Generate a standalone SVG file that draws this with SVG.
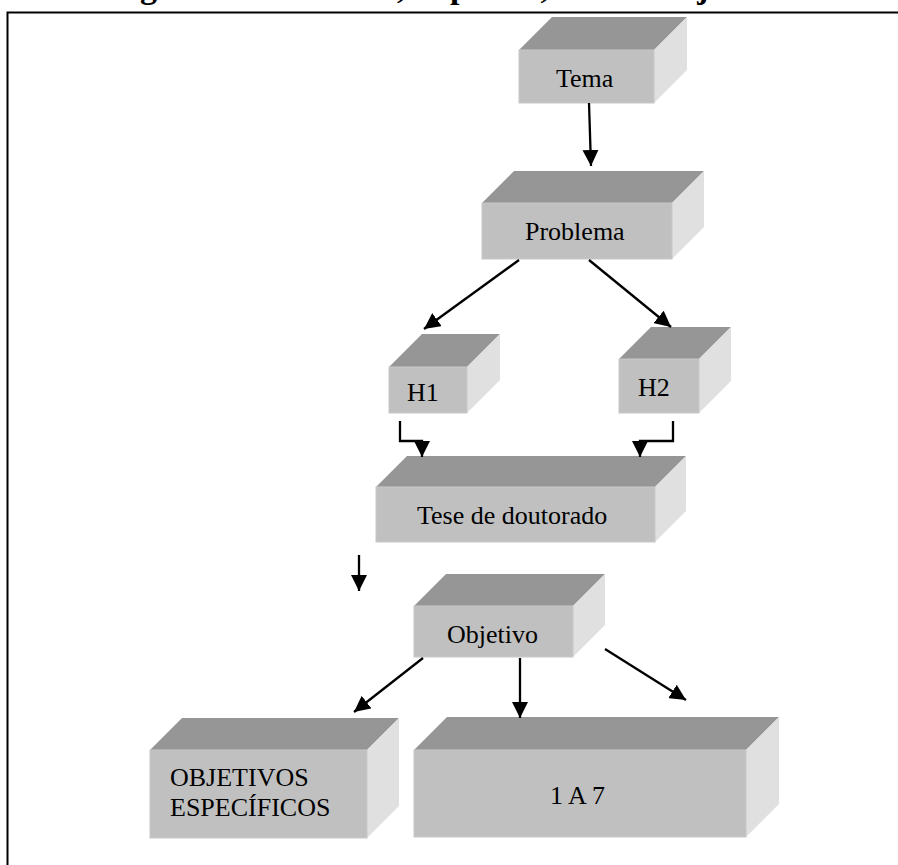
<svg xmlns="http://www.w3.org/2000/svg" width="898" height="865" viewBox="0 0 898 865">
<defs>
<marker id="ah" viewBox="0 0 16 16" refX="16" refY="8" markerWidth="16" markerHeight="16" markerUnits="userSpaceOnUse" orient="auto">
<path d="M0,0 L16,8 L0,16 z" fill="#000"/>
</marker>
<style>
.front{fill:#c0c0c0;stroke:#c8c8c8;stroke-width:1}
.top{fill:#969696}
.side{fill:#e0e0e0}
.lbl{font-family:"Liberation Serif","Times New Roman",serif;font-size:26px;fill:#000}
.ttl{font-family:"Liberation Serif","Times New Roman",serif;font-size:34px;font-weight:bold;fill:#000}
.con{stroke:#000;stroke-width:2.3;fill:none}
.arr{marker-end:url(#ah)}
</style>
</defs>
<rect width="898" height="865" fill="#fff"/>
<text class="ttl" y="-2.5"><tspan x="89">Diagrama do Tema</tspan><tspan x="397">, Hipótese, Tese e Objetivo</tspan></text>
<path d="M7.5,865 V12.5 H898" stroke="#000" stroke-width="2" fill="none"/>

<g id="tema">
<polygon class="top" points="519,50 552,17 687,17 654,50"/>
<polygon class="side" points="654,50 687,17 687,70 654,103"/>
<rect class="front" x="519" y="50" width="135" height="53"/>
<text class="lbl" x="556" y="87">Tema</text>
</g>

<g id="problema">
<polygon class="top" points="482,203 514,171 704,171 672,203"/>
<polygon class="side" points="672,203 704,171 704,227 672,259"/>
<rect class="front" x="482" y="203" width="190" height="56"/>
<text class="lbl" x="525" y="240">Problema</text>
</g>

<g id="h1">
<polygon class="top" points="389,367 422,334 500,334 467,367"/>
<polygon class="side" points="467,367 500,334 500,380 467,413"/>
<rect class="front" x="389" y="367" width="78" height="46"/>
<text class="lbl" x="407" y="401">H1</text>
</g>

<g id="h2">
<polygon class="top" points="619,359 651,327 731,327 699,359"/>
<polygon class="side" points="699,359 731,327 731,381 699,413"/>
<rect class="front" x="619" y="359" width="80" height="54"/>
<text class="lbl" x="638" y="396">H2</text>
</g>

<g id="tese">
<polygon class="top" points="376,487 407,456 686,456 655,487"/>
<polygon class="side" points="655,487 686,456 686,511 655,542"/>
<rect class="front" x="376" y="487" width="279" height="55"/>
<text class="lbl" x="417" y="524">Tese de doutorado</text>
</g>

<g id="objetivo">
<polygon class="top" points="414,606 446,574 605,574 573,606"/>
<polygon class="side" points="573,606 605,574 605,625 573,657"/>
<rect class="front" x="414" y="606" width="159" height="51"/>
<text class="lbl" x="447" y="643">Objetivo</text>
</g>

<g id="especificos">
<polygon class="top" points="150,750 182,718 399,718 367,750"/>
<polygon class="side" points="367,750 399,718 399,806 367,838"/>
<rect class="front" x="150" y="750" width="217" height="88"/>
<text class="lbl" x="170" y="786">OBJETIVOS</text>
<text class="lbl" x="170" y="816">ESPECÍFICOS</text>
</g>

<g id="um-a-sete">
<polygon class="top" points="414,750 447,717 779,717 746,750"/>
<polygon class="side" points="746,750 779,717 779,804 746,837"/>
<rect class="front" x="414" y="750" width="332" height="87"/>
<text class="lbl" x="550" y="804">1 A 7</text>
</g>

<g id="connectors">
<line class="con arr" x1="589" y1="103" x2="591" y2="166"/>
<line class="con arr" x1="519" y1="260" x2="424" y2="329"/>
<line class="con arr" x1="589" y1="260" x2="671" y2="327"/>
<polyline class="con arr" points="400,421 400,441 422,441 422,457"/>
<polyline class="con arr" points="673,421 673,441 640,441 640,457"/>
<line class="con arr" x1="359" y1="555" x2="359" y2="591"/>
<line class="con arr" x1="423" y1="658" x2="354" y2="712"/>
<line class="con arr" x1="520" y1="658" x2="520" y2="718"/>
<line class="con arr" x1="605" y1="649" x2="686" y2="700"/>
</g>
</svg>
